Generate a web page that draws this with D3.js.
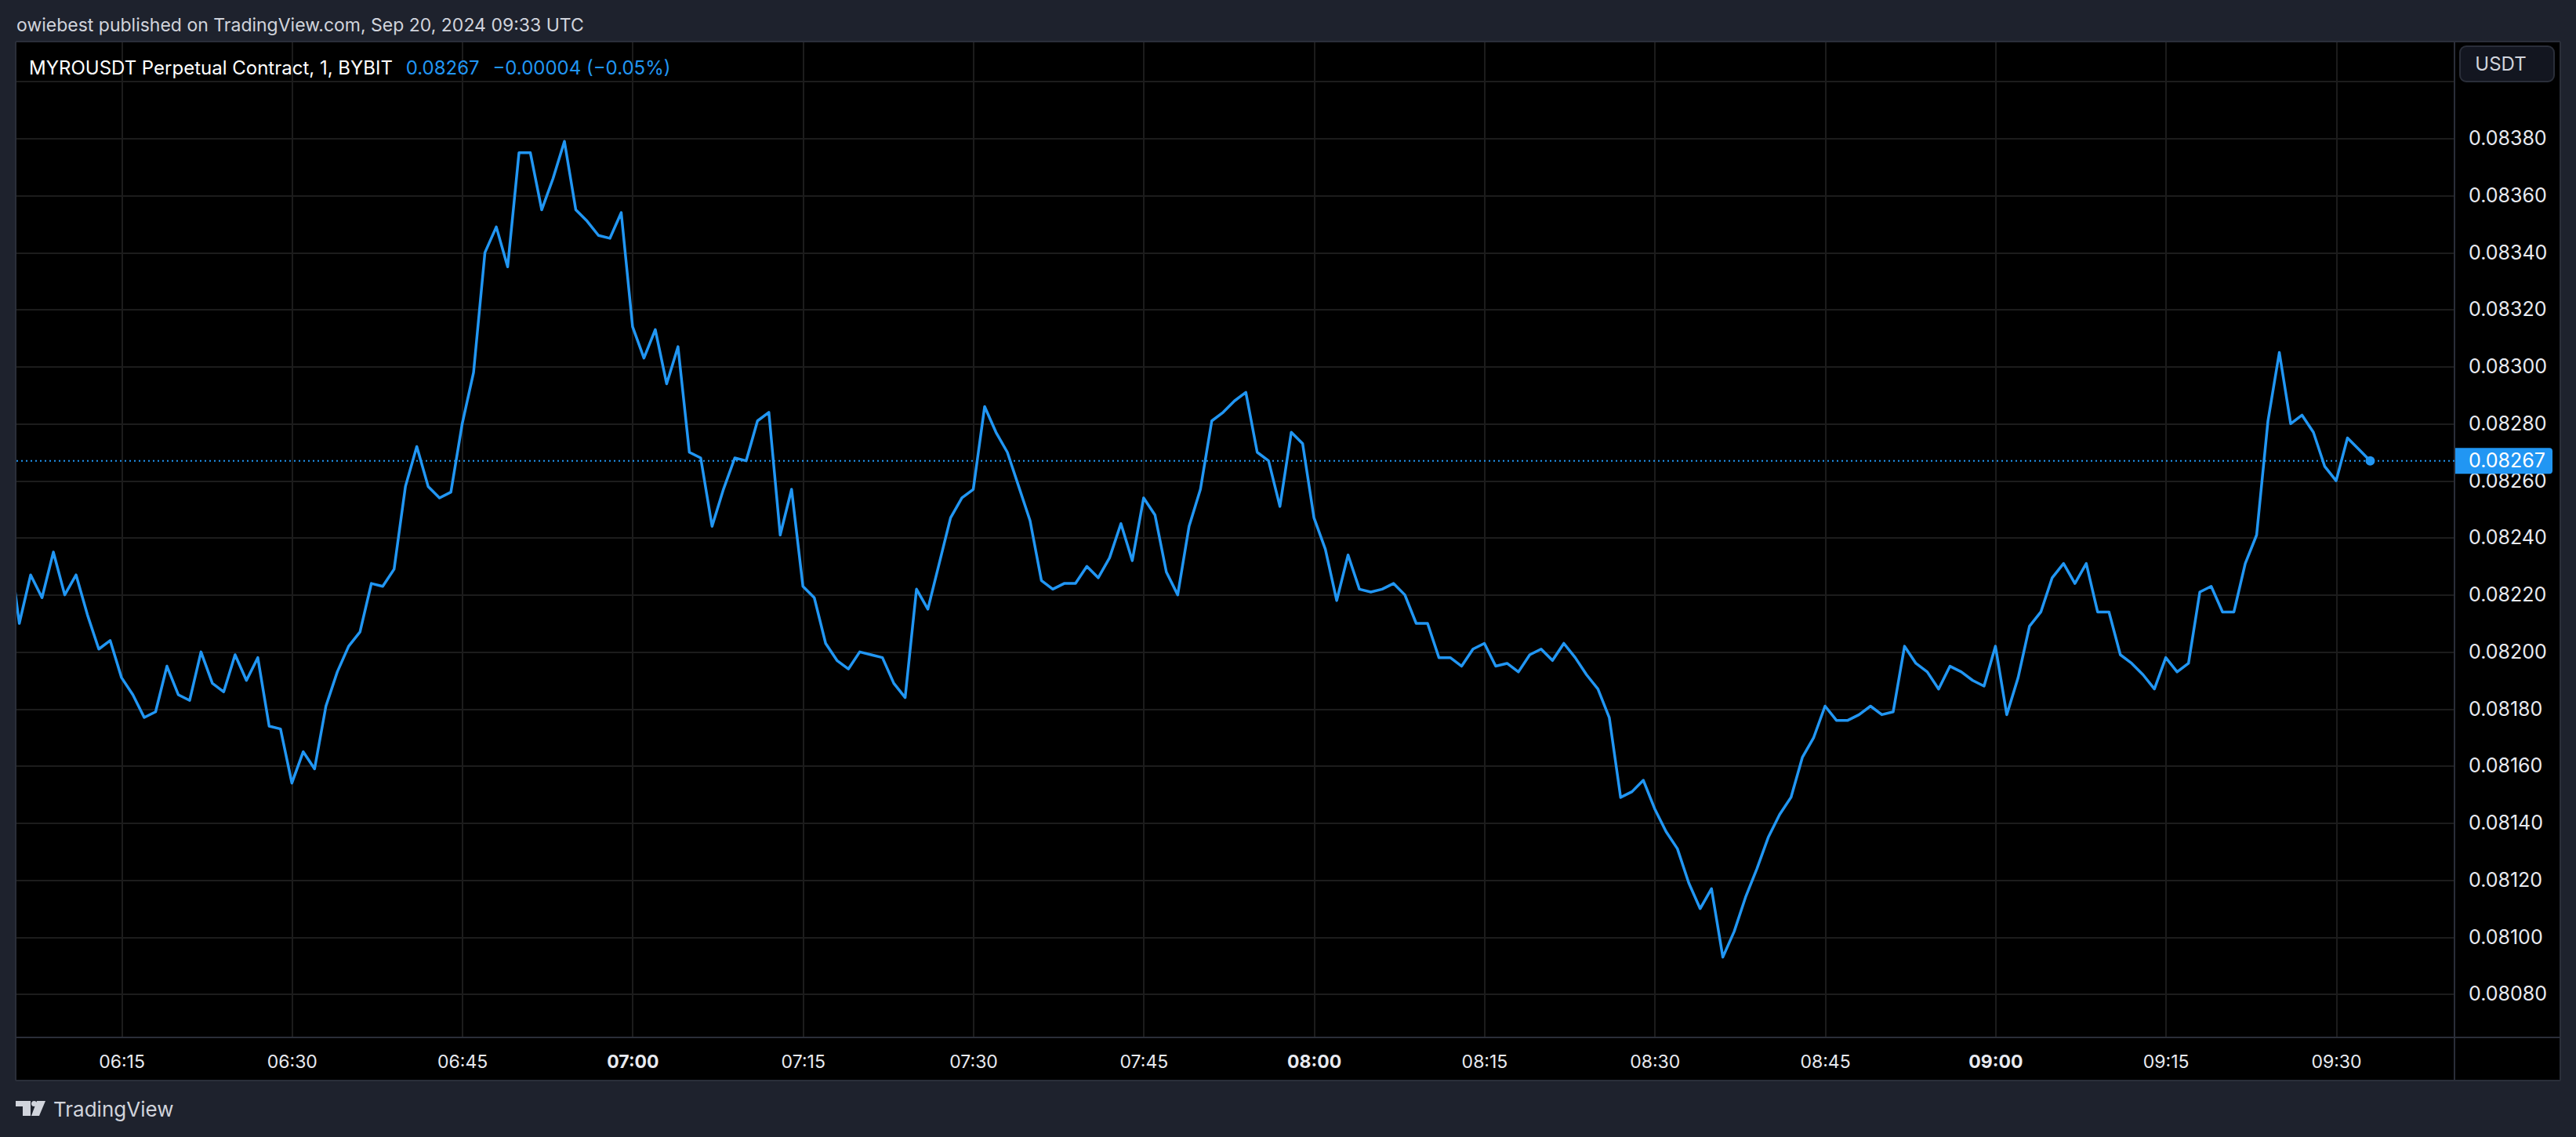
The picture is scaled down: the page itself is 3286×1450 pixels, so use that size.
<!DOCTYPE html>
<html>
<head>
<meta charset="utf-8">
<script src="https://cdn.jsdelivr.net/npm/d3@7"></script>
<style>
  body {
    margin: 0;
    background: #1e222d;
  }

  svg {
    display: block;
    font-family: Inter, 'Noto Sans', sans-serif;
  }

  .grid line {
    stroke: #1c1c1c;
    stroke-width: 2px;
    shape-rendering: crispEdges;
  }

  .grid path,
  .axis path,
  .axis line {
    stroke: none;
  }

  .price-axis text {
    fill: #e8eaf0;
    font-size: 25px;
  }

  .time-axis text {
    fill: #e8eaf0;
    font-size: 23px;
  }

  .frame-line {
    stroke: #2a2e39;
    stroke-width: 2px;
    shape-rendering: crispEdges;
  }

  .data-line {
    fill: none;
    stroke: #2196f3;
    stroke-width: 3.5px;
    stroke-linejoin: round;
    stroke-linecap: round;
  }
</style>
</head>
<body>
<svg id="chart" width="3286" height="1450"></svg>
<script>
// MYROUSDT perpetual, 1 minute closes, Sep 20 2024 (UTC)
const startTime = '06:05';
const closes = [
  0.08240, 0.08210, 0.08227, 0.08219, 0.08235, 0.08220, 0.08227, 0.08213, 0.08201, 0.08204, // 06:05
  0.08191, 0.08185, 0.08177, 0.08179, 0.08195, 0.08185, 0.08183, 0.08200, 0.08189, 0.08186, // 06:15
  0.08199, 0.08190, 0.08198, 0.08174, 0.08173, 0.08154, 0.08165, 0.08159, 0.08181, 0.08193, // 06:25
  0.08202, 0.08207, 0.08224, 0.08223, 0.08229, 0.08258, 0.08272, 0.08258, 0.08254, 0.08256, // 06:35
  0.08280, 0.08298, 0.08340, 0.08349, 0.08335, 0.08375, 0.08375, 0.08355, 0.08366, 0.08379, // 06:45
  0.08355, 0.08351, 0.08346, 0.08345, 0.08354, 0.08314, 0.08303, 0.08313, 0.08294, 0.08307, // 06:55
  0.08270, 0.08268, 0.08244, 0.08257, 0.08268, 0.08267, 0.08281, 0.08284, 0.08241, 0.08257, // 07:05
  0.08223, 0.08219, 0.08203, 0.08197, 0.08194, 0.08200, 0.08199, 0.08198, 0.08189, 0.08184, // 07:15
  0.08222, 0.08215, 0.08231, 0.08247, 0.08254, 0.08257, 0.08286, 0.08277, 0.08270, 0.08258, // 07:25
  0.08246, 0.08225, 0.08222, 0.08224, 0.08224, 0.08230, 0.08226, 0.08233, 0.08245, 0.08232, // 07:35
  0.08254, 0.08248, 0.08228, 0.08220, 0.08244, 0.08257, 0.08281, 0.08284, 0.08288, 0.08291, // 07:45
  0.08270, 0.08267, 0.08251, 0.08277, 0.08273, 0.08247, 0.08236, 0.08218, 0.08234, 0.08222, // 07:55
  0.08221, 0.08222, 0.08224, 0.08220, 0.08210, 0.08210, 0.08198, 0.08198, 0.08195, 0.08201, // 08:05
  0.08203, 0.08195, 0.08196, 0.08193, 0.08199, 0.08201, 0.08197, 0.08203, 0.08198, 0.08192, // 08:15
  0.08187, 0.08177, 0.08149, 0.08151, 0.08155, 0.08145, 0.08137, 0.08131, 0.08119, 0.08110, // 08:25
  0.08117, 0.08093, 0.08102, 0.08114, 0.08124, 0.08135, 0.08143, 0.08149, 0.08163, 0.08170, // 08:35
  0.08181, 0.08176, 0.08176, 0.08178, 0.08181, 0.08178, 0.08179, 0.08202, 0.08196, 0.08193, // 08:45
  0.08187, 0.08195, 0.08193, 0.08190, 0.08188, 0.08202, 0.08178, 0.08191, 0.08209, 0.08214, // 08:55
  0.08226, 0.08231, 0.08224, 0.08231, 0.08214, 0.08214, 0.08199, 0.08196, 0.08192, 0.08187, // 09:05
  0.08198, 0.08193, 0.08196, 0.08221, 0.08223, 0.08214, 0.08214, 0.08231, 0.08241, 0.08281, // 09:15
  0.08305, 0.08280, 0.08283, 0.08277, 0.08265, 0.08260, 0.08275, 0.08271, 0.08267            // 09:25
];
const priceTicks = [
  0.0838, 0.0836, 0.0834, 0.0832, 0.083, 0.0828, 0.0826, 0.0824,
  0.0822, 0.082, 0.0818, 0.0816, 0.0814, 0.0812, 0.081, 0.0808,
];
const gridPrices = [0.084].concat(priceTicks);
const timeTicks = [
  '06:15', '06:30', '06:45', '07:00', '07:15', '07:30', '07:45',
  '08:00', '08:15', '08:30', '08:45', '09:00', '09:15', '09:30',
];
const headerText = 'owiebest published on TradingView.com, Sep 20, 2024 09:33 UTC';
const symbolText = 'MYROUSDT Perpetual Contract, 1, BYBIT';
const currency = 'USDT';

const svg = d3.select('#chart');
const frame = { left: 20, top: 53, right: 3266, bottom: 1378 };
const plot = { left: 21, top: 54, right: 3131, bottom: 1323 };

const parseTime = d3.utcParse('%H:%M');
const t0 = parseTime(startTime);
const data = closes.map((v, i) => ({ time: d3.utcMinute.offset(t0, i), value: v }));
const tickDates = timeTicks.map(parseTime);

const x = d3.scaleUtc()
  .domain([parseTime('06:15'), parseTime('09:30')])
  .range([155, 2980]);
const y = d3.scaleLinear()
  .domain([0.0838, 0.0808])
  .range([176.6, 1267.9]);

const fmtPrice = d3.format('.5f');
const fmtMinus = (s) => s.replace('-', '\u2212');

// header
svg.append('text')
  .attr('x', 21)
  .attr('y', 32)
  .attr('dy', '0.35em')
  .attr('font-size', 23)
  .attr('fill', '#d1d4dc')
  .text(headerText);

// chart frame
svg.append('rect')
  .attr('x', frame.left)
  .attr('y', frame.top)
  .attr('width', frame.right - frame.left)
  .attr('height', frame.bottom - frame.top)
  .attr('fill', '#000');

svg.append('defs')
  .append('clipPath')
  .attr('id', 'plot-clip')
  .append('rect')
  .attr('x', plot.left)
  .attr('y', plot.top)
  .attr('width', plot.right - plot.left)
  .attr('height', plot.bottom - plot.top);

// grid
svg.append('g')
  .attr('class', 'grid')
  .attr('transform', 'translate(' + plot.left + ',0)')
  .call(d3.axisLeft(y).tickValues(gridPrices).tickSize(-(plot.right - plot.left)).tickFormat(''));

svg.append('g')
  .attr('class', 'grid')
  .attr('transform', 'translate(0,' + plot.bottom + ')')
  .call(d3.axisBottom(x).tickValues(tickDates).tickSize(-(plot.bottom - plot.top)).tickFormat(''));

// frame lines
const frameLines = [
  [frame.left, frame.top, frame.right, frame.top],
  [frame.left, frame.bottom, frame.right, frame.bottom],
  [frame.left, frame.top, frame.left, frame.bottom],
  [frame.right, frame.top, frame.right, frame.bottom],
  [plot.right, frame.top, plot.right, frame.bottom],
  [frame.left, plot.bottom, frame.right, plot.bottom],
];
svg.append('g')
  .selectAll('line')
  .data(frameLines)
  .enter()
  .append('line')
  .attr('class', 'frame-line')
  .attr('x1', (d) => d[0])
  .attr('y1', (d) => d[1])
  .attr('x2', (d) => d[2])
  .attr('y2', (d) => d[3]);

// price axis
svg.append('g')
  .attr('class', 'axis price-axis')
  .attr('transform', 'translate(' + plot.right + ',0)')
  .call(d3.axisRight(y).tickValues(priceTicks).tickSize(0).tickPadding(18).tickFormat(fmtPrice))
  .attr('font-family', null)
  .attr('font-size', null);

// time axis
svg.append('g')
  .attr('class', 'axis time-axis')
  .attr('transform', 'translate(0,' + plot.bottom + ')')
  .call(d3.axisBottom(x).tickValues(tickDates).tickSize(0).tickFormat(d3.utcFormat('%H:%M')))
  .attr('font-family', null)
  .attr('font-size', null)
  .selectAll('text')
  .attr('y', 31)
  .attr('dy', '0.35em')
  .attr('font-weight', (d) => (d.getUTCMinutes() === 0 ? 'bold' : null))
  .attr('fill', (d) => (d.getUTCMinutes() === 0 ? '#ffffff' : null));

// last price line
const last = data[data.length - 1];
const prev = data[data.length - 2];
const change = last.value - prev.value;

svg.append('line')
  .attr('x1', plot.left)
  .attr('x2', plot.right)
  .attr('y1', y(last.value))
  .attr('y2', y(last.value))
  .attr('stroke', '#2196f3')
  .attr('stroke-width', 2)
  .attr('stroke-dasharray', '2,4');

// series
svg.append('path')
  .datum(data)
  .attr('class', 'data-line')
  .attr('clip-path', 'url(#plot-clip)')
  .attr('d', d3.line().x((d) => x(d.time)).y((d) => y(d.value)));

svg.append('circle')
  .attr('cx', x(last.time))
  .attr('cy', y(last.value))
  .attr('r', 6)
  .attr('fill', '#2196f3');

// last price label
const ly = y(last.value);
const lx0 = plot.right + 1;
const lx1 = 3256;
const lh = 16.5;
svg.append('path')
  .attr('fill', '#2196f3')
  .attr('d',
    'M' + lx0 + ',' + (ly - lh) +
    'H' + (lx1 - 4) + 'Q' + lx1 + ',' + (ly - lh) + ' ' + lx1 + ',' + (ly - lh + 4) +
    'V' + (ly + lh - 4) + 'Q' + lx1 + ',' + (ly + lh) + ' ' + (lx1 - 4) + ',' + (ly + lh) +
    'H' + lx0 + 'Z');
svg.append('text')
  .attr('x', plot.right + 18)
  .attr('y', ly)
  .attr('dy', '0.35em')
  .attr('font-size', 25)
  .attr('fill', '#ffffff')
  .text(fmtPrice(last.value));

// currency button
svg.append('rect')
  .attr('x', 3138)
  .attr('y', 59)
  .attr('width', 120)
  .attr('height', 45)
  .attr('rx', 8)
  .attr('fill', '#131620')
  .attr('stroke', '#2a2e39')
  .attr('stroke-width', 2);
svg.append('text')
  .attr('x', 3190)
  .attr('y', 82)
  .attr('dy', '0.35em')
  .attr('text-anchor', 'middle')
  .attr('font-size', 24)
  .attr('fill', '#d1d4dc')
  .text(currency);

// legend
const legend = svg.append('text')
  .attr('x', 37)
  .attr('y', 87)
  .attr('dy', '0.35em')
  .attr('font-size', 24)
  .attr('fill', '#ffffff');
legend.append('tspan').text(symbolText);
legend.append('tspan')
  .attr('dx', 10)
  .attr('fill', '#2196f3')
  .text(' ' + fmtPrice(last.value));
legend.append('tspan')
  .attr('dx', 10)
  .attr('fill', '#2196f3')
  .text(' ' + fmtMinus(fmtPrice(change)) + ' (' + fmtMinus(d3.format('.2%')(change / prev.value)) + ')');

// footer logo
const logo = svg.append('g').attr('fill', '#d1d4dc');
logo.append('path').attr('d', 'M20,1404H39V1423H29V1411H20Z');
logo.append('circle').attr('cx', 43.5).attr('cy', 1407.5).attr('r', 3.5);
logo.append('path').attr('d', 'M47,1404H58L50,1423H40Z');
svg.append('text')
  .attr('x', 68)
  .attr('y', 1415)
  .attr('dy', '0.35em')
  .attr('font-size', 26)
  .attr('fill', '#d1d4dc')
  .text('TradingView');
</script>
</body>
</html>
